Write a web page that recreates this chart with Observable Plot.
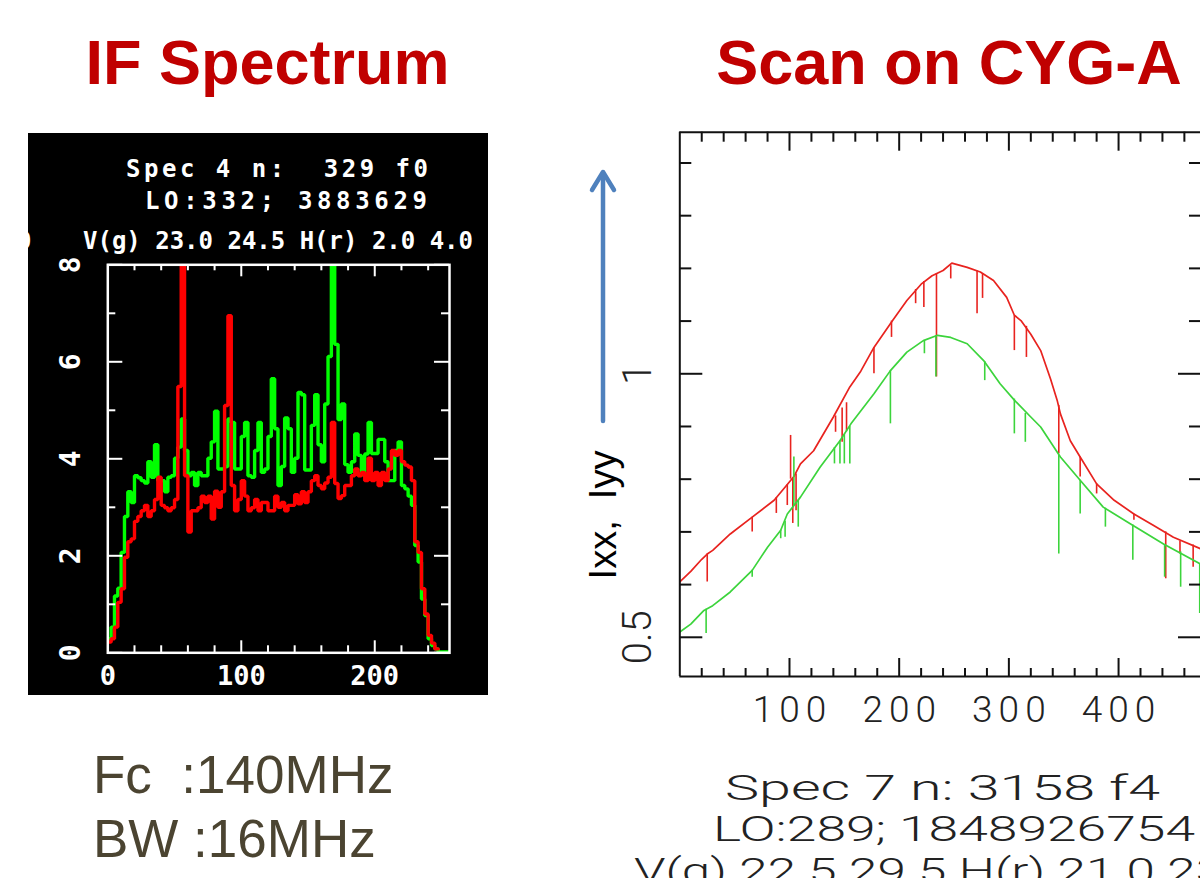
<!DOCTYPE html>
<html><head><meta charset="utf-8">
<script src="https://cdn.jsdelivr.net/npm/d3@7"></script>
<script src="https://cdn.jsdelivr.net/npm/@observablehq/plot@0.6"></script>
<style>
html,body{margin:0;padding:0;background:#fff;}
body{width:1200px;height:878px;position:relative;overflow:hidden;}
#left{position:absolute;left:28px;top:133px;width:460px;height:562px;}
#right{position:absolute;left:580px;top:120px;width:620px;height:636px;}
#overlay{position:absolute;left:0;top:0;pointer-events:none;}
svg text{white-space:pre;}
</style></head><body>
<div id="left"></div><div id="right"></div>
<svg id="overlay" width="1200" height="878" xmlns="http://www.w3.org/2000/svg">
 <defs><clipPath id="blk"><rect x="28" y="133" width="460" height="562"/></clipPath></defs>
 <g font-family="Liberation Sans, Arial, sans-serif" font-weight="bold" fill="#c00000" font-size="63" text-anchor="middle">
  <text x="267.5" y="83.5">IF Spectrum</text>
  <text x="949" y="83.5">Scan on CYG-A</text>
 </g>
 <g font-family="Liberation Sans, Arial, sans-serif" fill="#4b4431" font-size="53">
  <text x="93" y="793">Fc  :140MHz</text>
  <text x="93" y="856.5">BW :16MHz</text>
 </g>
 <g font-family="DejaVu Sans Mono, monospace" font-weight="bold" fill="#fff" font-size="24" clip-path="url(#blk)">
  <text x="126" y="176.7" textLength="302">Spec 4 n:  329 f0</text>
  <text x="145" y="209.3" textLength="282">LO:332; 3883629</text>
  <text x="83" y="249" textLength="390">V(g) 23.0 24.5 H(r) 2.0 4.0</text>
  <text x="17" y="249">0</text>
 </g>
 <g stroke="#4f81bd" stroke-width="4.5" fill="none" stroke-linecap="round" stroke-linejoin="round">
  <line x1="603" y1="421" x2="603" y2="173"/>
  <polyline points="592,190 603,172 614,190"/>
 </g>
 <text transform="translate(616,515) rotate(-90)" text-anchor="middle" font-family="Liberation Sans, Arial, sans-serif" font-size="38" fill="#000">Ixx,  Iyy</text>
 <g font-family="Roboto, Liberation Sans, sans-serif" font-weight="300" fill="#222" font-size="35">
  <text x="725" y="800" textLength="435" lengthAdjust="spacingAndGlyphs">Spec 7 n: 3158 f4</text>
  <text x="713" y="840.7" textLength="482" lengthAdjust="spacingAndGlyphs">LO:289; 1848926754</text>
  <text x="610" y="883">,</text>
  <text x="634" y="883" textLength="590" lengthAdjust="spacingAndGlyphs">V(g) 22.5 29.5 H(r) 21.0 23</text>
 </g>
</svg>
<script>
// ---------------- Left chart: IF spectrum (step histogram) ----------------
const ifBinWidth = 2.5;
const ifXMax = 256;
const ifGreen = [0.29,0.53,1.17,1.33,2.07,2.81,3.32,3.10,3.65,3.61,3.55,3.50,3.94,3.62,4.29,3.55,3.55,3.32,3.62,3.65,
  4.01,4.24,4.82,4.17,3.65,3.72,3.45,3.72,3.65,3.65,4.01,4.35,4.98,3.79,3.79,3.84,4.82,4.75,3.79,3.79,
  4.46,4.75,3.65,3.62,4.17,4.75,3.72,3.79,4.46,5.65,4.62,3.45,3.84,4.84,4.62,3.72,4.01,5.37,5.32,3.77,
  3.77,4.69,5.32,4.29,3.94,5.13,6.11,8.5,6.36,4.81,5.13,3.88,3.72,3.94,4.51,4.07,3.67,4.10,4.75,4.11,
  4.11,4.40,4.40,3.94,3.55,3.55,4.17,4.35,3.45,3.38,3.23,3.04,2.21,1.87,1.11,0.77,0.29,0.15,0.08,0.02,
  0.02,0.02,0.02];
const ifRed = [0.22,0.29,0.53,1.04,1.32,1.97,2.29,2.35,2.71,2.81,2.93,3.04,2.81,2.93,3.16,3.62,3.04,2.99,2.93,2.99,
  3.16,5.49,8.5,3.65,2.49,2.93,2.93,2.99,3.23,3.10,3.23,2.76,3.33,3.00,3.32,5.10,6.95,3.45,2.93,3.16,
  3.55,3.23,2.93,2.99,3.16,2.93,3.10,3.10,2.93,2.93,3.23,3.00,3.10,2.93,3.04,3.04,3.26,3.07,3.32,3.10,
  3.32,3.55,3.65,3.45,3.38,3.50,3.62,4.75,3.49,3.18,3.24,3.45,3.45,3.65,3.79,3.65,3.72,3.55,4.01,3.55,
  3.72,3.45,3.72,3.55,3.79,4.17,4.07,4.17,3.94,3.87,3.83,3.55,2.29,2.07,1.32,0.80,0.36,0.20,0.08];
const ifXTicksMinor = [20,40,60,80,120,140,160,180,220,240];
const ifXTicksMajor = [100,200];
const ifXLabels = [0,100,200];
const ifYTicksMajor = [0,2,4,6,8];
const ifYTicksMinor = [1,3,5,7];

function stepRows(vals){
  const rows = vals.map((v,i)=>({x:i*ifBinWidth, y:v}));
  rows.push({x: Math.min(vals.length*ifBinWidth, ifXMax), y: vals[vals.length-1]});
  return rows;
}
const LW = 460, LH = 562, LML = 79.3, LMR = 39, LMT = 131.3, LMB = 42.7;
const LFW = LW-LML-LMR, LFH = LH-LMT-LMB;
const monoFont = "DejaVu Sans Mono, monospace";
const leftPlot = Plot.plot({
  width: LW, height: LH, marginLeft: LML, marginRight: LMR, marginTop: LMT, marginBottom: LMB,
  style: {background: "#000", color: "#fff", maxWidth: "none"},
  x: {domain: [0, ifXMax], axis: null},
  y: {domain: [0, 8], axis: null},
  marks: [
    Plot.line(stepRows(ifGreen), {x: "x", y: "y", curve: "step-after", stroke: "#00ff00", strokeWidth: 3.4, strokeLinejoin: "miter", clip: true}),
    Plot.line(stepRows(ifRed), {x: "x", y: "y", curve: "step-after", stroke: "#ff0000", strokeWidth: 3.4, strokeLinejoin: "miter", clip: true}),
    Plot.frame({stroke: "#fff", strokeWidth: 2.5}),
    Plot.tickX(ifXTicksMinor, {x: d=>d, insetTop: LFH-7, stroke: "#fff", strokeWidth: 2}),
    Plot.tickX(ifXTicksMajor, {x: d=>d, insetTop: LFH-12, stroke: "#fff", strokeWidth: 2}),
    Plot.tickX(ifXTicksMinor, {x: d=>d, insetBottom: LFH-6, stroke: "#fff", strokeWidth: 2}),
    Plot.tickX(ifXTicksMajor, {x: d=>d, insetBottom: LFH-12, stroke: "#fff", strokeWidth: 2}),
    Plot.tickY(ifYTicksMajor, {y: d=>d, insetRight: LFW-15, stroke: "#fff", strokeWidth: 2}),
    Plot.tickY(ifYTicksMinor, {y: d=>d, insetRight: LFW-8, stroke: "#fff", strokeWidth: 2}),
    Plot.tickY(ifYTicksMajor, {y: d=>d, insetLeft: LFW-15, stroke: "#fff", strokeWidth: 2}),
    Plot.tickY(ifYTicksMinor, {y: d=>d, insetLeft: LFW-8, stroke: "#fff", strokeWidth: 2}),
    Plot.text(ifXLabels, {x: d=>d, text: d=>String(d), frameAnchor: "bottom", dy: 23.7, lineAnchor: "middle", textAnchor: "middle",
      fill: "#fff", fontSize: 27, fontWeight: "bold", fontFamily: monoFont}),
    Plot.text(ifYTicksMajor, {y: d=>d, text: d=>String(d), frameAnchor: "left", dx: -36.8, rotate: -90, lineAnchor: "middle", textAnchor: "middle",
      fill: "#fff", fontSize: 28, fontWeight: "bold", fontFamily: monoFont})
  ]
});
document.getElementById("left").append(leftPlot);

// ---------------- Right chart: Scan on CYG-A ----------------
const scanXMax = 474.7;
const scanYDomain = [0.4256, 1.4584];
const ixxX = [0,10,20,25,30,46,66,86,98,104,110,122,140,155,165,177,194,207,220,230,240,248,262,274,286,298,305,311,320,329,338,344,347,356,365,380,396,414,432,450,474.7];
const ixxY = [0.605,0.625,0.648,0.658,0.665,0.696,0.728,0.760,0.790,0.805,0.829,0.854,0.918,0.975,1.005,1.050,1.101,1.139,1.170,1.186,1.196,1.210,1.202,1.193,1.177,1.145,1.111,1.101,1.075,1.044,0.990,0.950,0.924,0.873,0.842,0.791,0.760,0.734,0.712,0.690,0.668];
const ixxSpikeX   = [25,66,88,98,101,103,106,142,148,152,177,193,215,222.5,234,247,271,276,305,316,345.5,365,380,414,443,456,468];
const ixxSpikeTop = [0.658,0.728,0.765,0.790,0.800,0.800,0.810,0.920,0.935,0.945,1.050,1.100,1.160,1.175,1.190,1.205,1.195,1.190,1.110,1.090,0.940,0.842,0.791,0.734,0.700,0.682,0.675];
const ixxSpikeBot = [0.605,0.700,0.735,0.750,0.883,0.716,0.740,0.889,0.870,0.890,1.000,1.069,1.133,1.126,0.994,1.180,1.114,1.143,1.044,1.031,0.848,0.804,0.772,0.722,0.611,0.658,0.633];
const iyyX = [0,10,22,30,46,66,80,92,98,110,128,146,156,177,192,207,222,235,247,262,277,292,305,320,329,347,365,386,411,441,474.7];
const iyyY = [0.510,0.525,0.551,0.560,0.586,0.627,0.671,0.703,0.734,0.766,0.823,0.873,0.905,0.962,1.006,1.041,1.063,1.073,1.069,1.057,1.025,0.981,0.950,0.918,0.899,0.842,0.798,0.747,0.715,0.677,0.639];
const iyySpikeX   = [24,66,92,96,104,108,141,146,150,155,192,223,233.5,278,305,315,345.5,365,388,413,442,456.6,474];
const iyySpikeTop = [0.553,0.627,0.703,0.720,0.750,0.760,0.860,0.873,0.885,0.900,1.006,1.063,1.072,1.023,0.952,0.925,0.845,0.798,0.745,0.713,0.676,0.662,0.640];
const iyySpikeBot = [0.507,0.614,0.687,0.690,0.842,0.709,0.829,0.829,0.829,0.829,0.905,1.038,0.994,0.987,0.886,0.870,0.658,0.734,0.709,0.646,0.614,0.595,0.545];
const scanXMinor = [20,40,60,80,120,140,160,180,220,240,260,280,320,340,360,380,420,440,460];
const scanXMajor = [100,200,300,400];
const scanYMinor = [0.6,0.7,0.8,0.9,1.1,1.2,1.3,1.4];
const scanYMajor = [0.5,1.0];
const scanXLabels = [100,200,300,400];
const scanYLabels = [0.5,1];

const RW = 620, RH = 636, RML = 99.3, RMR = 0, RMT = 11.7, RMB = 80;
const RFW = RW-RML-RMR, RFH = RH-RMT-RMB;
const RED = "#e8231f", GREEN = "#3cd43c", AX = "#111";
const ixxRows = ixxX.map((x,i)=>({x, y: ixxY[i]}));
const iyyRows = iyyX.map((x,i)=>({x, y: iyyY[i]}));
const ixxSp = ixxSpikeX.map((x,i)=>({x, y1: ixxSpikeTop[i], y2: ixxSpikeBot[i]}));
const iyySp = iyySpikeX.map((x,i)=>({x, y1: iyySpikeTop[i], y2: iyySpikeBot[i]}));
const lightFont = "Roboto, Liberation Sans, sans-serif";
const rightPlot = Plot.plot({
  width: RW, height: RH, marginLeft: RML, marginRight: RMR, marginTop: RMT, marginBottom: RMB,
  style: {background: "transparent", maxWidth: "none"},
  x: {domain: [0, scanXMax], axis: null},
  y: {domain: scanYDomain, axis: null},
  marks: [
    Plot.line(ixxRows, {x: "x", y: "y", stroke: RED, strokeWidth: 1.7, clip: true}),
    Plot.ruleX(ixxSp, {x: "x", y1: "y1", y2: "y2", stroke: RED, strokeWidth: 1.6, clip: true}),
    Plot.line(iyyRows, {x: "x", y: "y", stroke: GREEN, strokeWidth: 1.7, clip: true}),
    Plot.ruleX(iyySp, {x: "x", y1: "y1", y2: "y2", stroke: GREEN, strokeWidth: 1.6, clip: true}),
    // frame: left, top and bottom edges (right edge lies just outside the slide)
    Plot.ruleX([0], {stroke: AX, strokeWidth: 2}),
    Plot.ruleY(scanYDomain, {stroke: AX, strokeWidth: 2}),
    Plot.tickX(scanXMinor, {x: d=>d, insetTop: RFH-8, stroke: AX, strokeWidth: 2}),
    Plot.tickX(scanXMajor, {x: d=>d, insetTop: RFH-18, stroke: AX, strokeWidth: 2}),
    Plot.tickX(scanXMinor, {x: d=>d, insetBottom: RFH-10, stroke: AX, strokeWidth: 2}),
    Plot.tickX(scanXMajor, {x: d=>d, insetBottom: RFH-19, stroke: AX, strokeWidth: 2}),
    Plot.tickY(scanYMinor, {y: d=>d, insetRight: RFW-12, stroke: AX, strokeWidth: 2}),
    Plot.tickY(scanYMajor, {y: d=>d, insetRight: RFW-23, stroke: AX, strokeWidth: 2}),
    Plot.tickY(scanYMinor, {y: d=>d, insetLeft: RFW-11, stroke: AX, strokeWidth: 2}),
    Plot.tickY(scanYMajor, {y: d=>d, insetLeft: RFW-22, stroke: AX, strokeWidth: 2}),
    Plot.text(scanXLabels, {x: d=>d, text: d=>String(d), frameAnchor: "bottom", dy: 34, dx: 3, lineAnchor: "middle", textAnchor: "middle",
      fill: "#222", fontSize: 37, fontWeight: 300, fontFamily: lightFont}),
    Plot.text(scanYLabels, {y: d=>d, text: d=>String(d), frameAnchor: "left", dx: -29, rotate: -90, lineAnchor: "bottom", textAnchor: "middle",
      fill: "#222", fontSize: 40, fontWeight: 300, fontFamily: lightFont})
  ]
});
document.getElementById("right").append(rightPlot);
// widen the spacing of the x tick labels like the original (stretched) bitmap
d3.select(rightPlot).selectAll("text").filter(function(){ return scanXLabels.map(String).includes(this.textContent); })
  .style("letter-spacing", "6px");
</script>
</body></html>
